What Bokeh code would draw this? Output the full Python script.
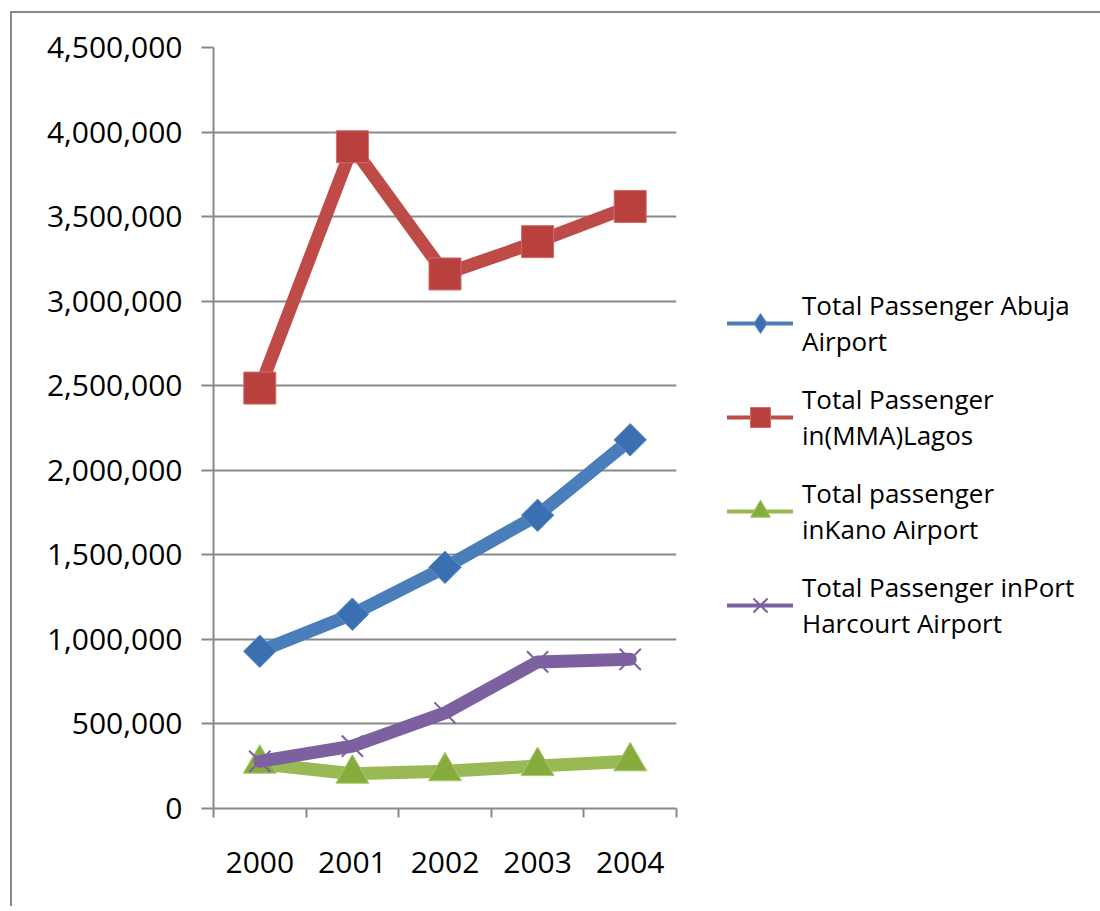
from bokeh.plotting import figure
from bokeh.models import (Range1d, FixedTicker, NumeralTickFormatter, Legend, LegendItem,
                          ColumnDataSource)
from bokeh.embed import file_html
from bokeh.resources import INLINE
import math

years = ["2000", "2001", "2002", "2003", "2004"]
abuja = [930000, 1149000, 1426000, 1734000, 2180000]
lagos = [2486000, 3913000, 3161000, 3352000, 3560000]
kano = [265000, 206000, 220000, 251000, 279000]
port_harcourt = [279000, 369000, 565000, 867000, 882000]
y_ticks = [0, 500000, 1000000, 1500000, 2000000, 2500000, 3000000, 3500000, 4000000, 4500000]

labels = ["Total Passenger Abuja\nAirport", "Total Passenger\nin(MMA)Lagos",
          "Total passenger\ninKano Airport", "Total Passenger inPort\nHarcourt Airport"]

FONT = "Open Sans"
GRAY = "#898989"

xs = list(range(1, len(years) + 1))

p = figure(frame_width=463, frame_height=761, output_backend="svg", toolbar_location=None,
           x_range=Range1d(0.5, len(years) + 0.5), y_range=Range1d(0, 4500000),
           min_border_left=201, min_border_right=10, min_border_top=34, min_border_bottom=98)
p.margin = (11, 0, 0, 10)
p.styles = {"border-left": "2px solid " + GRAY, "border-top": "2px solid " + GRAY}
p.outline_line_color = None
p.background_fill_color = "white"
p.border_fill_color = "white"

# x axis: labels at category centres, boundary ticks as minor ticks
p.xaxis.ticker = FixedTicker(ticks=xs, minor_ticks=[i + 0.5 for i in range(0, len(years) + 1)])
p.xaxis.major_label_overrides = {x: y for x, y in zip(xs, years)}
p.xaxis.major_tick_line_color = None
p.xaxis.major_tick_out = 0
p.xaxis.major_tick_in = 0
p.xaxis.minor_tick_out = 9
p.xaxis.minor_tick_in = 0
p.xaxis.minor_tick_line_color = GRAY
p.xaxis.minor_tick_line_width = 2
p.xaxis.axis_line_color = GRAY
p.xaxis.axis_line_width = 2
p.xaxis.major_label_standoff = 34
p.xaxis.major_label_text_font = FONT
p.xaxis.major_label_text_font_size = "30px"
p.xaxis.major_label_text_color = "black"

p.yaxis.ticker = FixedTicker(ticks=y_ticks)
p.yaxis.formatter = NumeralTickFormatter(format="0,0")
p.yaxis.major_tick_out = 12
p.yaxis.major_tick_in = 0
p.yaxis.minor_tick_line_color = None
p.yaxis.major_tick_line_color = GRAY
p.yaxis.major_tick_line_width = 2
p.yaxis.axis_line_color = GRAY
p.yaxis.axis_line_width = 2
p.yaxis.major_label_standoff = 19
p.yaxis.major_label_text_font = FONT
p.yaxis.major_label_text_font_size = "30px"
p.yaxis.major_label_text_color = "black"

p.xgrid.grid_line_color = None
p.ygrid.ticker = FixedTicker(ticks=y_ticks)
p.ygrid.grid_line_color = GRAY
p.ygrid.grid_line_width = 2

series = [
    (abuja, "#4A7EBB", "square", "diamond", 23, math.pi / 4, "#3A6FB0", "#5B8ECB", 1),
    (lagos, "#BE4B48", "square", "square", 32, 0, "#B8403D", "#D46A67", 1),
    (kano, "#98B954", "triangle", "triangle", 33, 0, "#86AC3E", "#A9C968", 1),
    (port_harcourt, "#7D60A0", "x", "x", 30, 0, "#7D60A0", "#7D60A0", 2),
]

items = []
for (vals, lc, marker, lmarker, size, angle, fc, mlc, mlw), lab in zip(series, labels):
    src = ColumnDataSource(dict(x=xs, y=vals))
    p.line("x", "y", source=src, line_color=lc, line_width=13, line_join="round", line_cap="round")
    p.scatter("x", "y", source=src, marker=marker, size=size, angle=angle,
              fill_color=fc, line_color=mlc, line_width=mlw)
    # legend samples: thinner line, placed outside the visible ranges
    off = ColumnDataSource(dict(x=[-100], y=[-1e9]))
    lr = p.line("x", "y", source=off, line_color=lc, line_width=4, line_cap="round")
    sr = p.scatter("x", "y", source=off, marker=lmarker, size=size,
                   fill_color=fc, line_color=mlc, line_width=mlw)
    items.append(LegendItem(label=lab, renderers=[lr, sr]))

legend = Legend(items=items, location=(51, 167))
legend.border_line_color = None
legend.background_fill_alpha = 0
legend.padding = 0
legend.margin = 0
legend.spacing = 22
legend.glyph_width = 66
legend.glyph_height = 50
legend.label_standoff = 9
legend.label_text_font = FONT
legend.label_text_font_size = "26px"
legend.label_text_color = "black"
p.add_layout(legend, "right")

open("out.html", "w").write(file_html(p, INLINE))
